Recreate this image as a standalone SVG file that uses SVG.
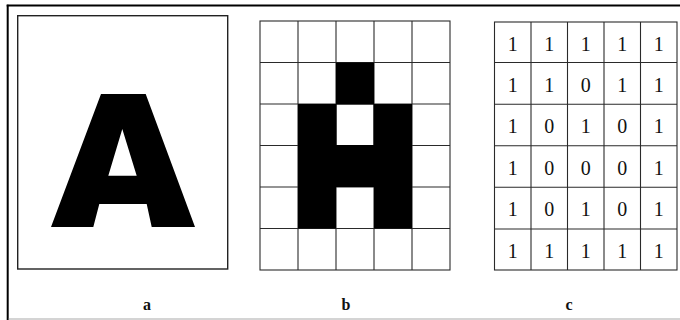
<svg xmlns="http://www.w3.org/2000/svg" width="680" height="320" viewBox="0 0 680 320">
  <style>
    .grid { stroke: #2a2a2a; stroke-width: 1.1; fill: none; }
    .digit { font-family: "Liberation Serif", "Times New Roman", serif; font-size: 20px; fill: #111; text-anchor: middle; }
    .label { font-family: "Liberation Serif", "Times New Roman", serif; font-size: 16px; font-weight: bold; fill: #111; text-anchor: middle; }
  </style>
  <rect x="0" y="0" width="680" height="320" fill="#fff"/>
  <g id="frame">
    <line x1="7.7" y1="4.7" x2="7.7" y2="320" stroke="#000" stroke-width="2"/>
    <line x1="6.7" y1="5.5" x2="680" y2="5.5" stroke="#000" stroke-width="1.8"/>
    <line x1="8.7" y1="319" x2="680" y2="319" stroke="#aaa" stroke-width="1.2"/>
  </g>
  <g id="panel-a">
    <rect x="17.7" y="15.7" width="210" height="253.3" fill="#fff" stroke="#222" stroke-width="1.4"/>
    <path fill="#000" fill-rule="evenodd" d="M51,227 L101,94 L145.7,94 L195,227 L151.7,227 L146.7,204 L99.3,204 L93.3,227 Z M122.3,129 L136.7,175.7 L108.3,175.7 Z"/>
    <text class="label" x="147" y="309.5">a</text>
  </g>
  <g id="panel-b">
    <g class="grid">
      <rect x="260" y="21" width="190" height="249"/>
      <line x1="298" y1="21" x2="298" y2="270"/>
      <line x1="336" y1="21" x2="336" y2="270"/>
      <line x1="374" y1="21" x2="374" y2="270"/>
      <line x1="412" y1="21" x2="412" y2="270"/>
      <line x1="260" y1="62.5" x2="450" y2="62.5"/>
      <line x1="260" y1="104" x2="450" y2="104"/>
      <line x1="260" y1="145.5" x2="450" y2="145.5"/>
      <line x1="260" y1="187" x2="450" y2="187"/>
      <line x1="260" y1="228.5" x2="450" y2="228.5"/>
    </g>
    <path fill="#000" fill-rule="evenodd" d="M336,62.5 H374 V104 H412 V228.5 H374 V187 H336 V228.5 H298 V104 H336 Z M336.5,104.5 H373.5 V145 H336.5 Z"/>
    <text class="label" x="346" y="309.5">b</text>
  </g>
  <g id="panel-c">
    <g class="grid">
      <rect x="494.5" y="22" width="182.5" height="248"/>
      <line x1="531" y1="22" x2="531" y2="270"/>
      <line x1="567.5" y1="22" x2="567.5" y2="270"/>
      <line x1="604" y1="22" x2="604" y2="270"/>
      <line x1="640.5" y1="22" x2="640.5" y2="270"/>
      <line x1="494.5" y1="62.5" x2="677" y2="62.5"/>
      <line x1="494.5" y1="104.3" x2="677" y2="104.3"/>
      <line x1="494.5" y1="145.7" x2="677" y2="145.7"/>
      <line x1="494.5" y1="187.3" x2="677" y2="187.3"/>
      <line x1="494.5" y1="229" x2="677" y2="229"/>
    </g>
    <g class="digit">
      <text x="512.75" y="50.5">1</text><text x="549.25" y="50.5">1</text><text x="585.75" y="50.5">1</text><text x="622.25" y="50.5">1</text><text x="658.75" y="50.5">1</text>
      <text x="512.75" y="91.5">1</text><text x="549.25" y="91.5">1</text><text x="585.75" y="91.5">0</text><text x="622.25" y="91.5">1</text><text x="658.75" y="91.5">1</text>
      <text x="512.75" y="133">1</text><text x="549.25" y="133">0</text><text x="585.75" y="133">1</text><text x="622.25" y="133">0</text><text x="658.75" y="133">1</text>
      <text x="512.75" y="174.5">1</text><text x="549.25" y="174.5">0</text><text x="585.75" y="174.5">0</text><text x="622.25" y="174.5">0</text><text x="658.75" y="174.5">1</text>
      <text x="512.75" y="216">1</text><text x="549.25" y="216">0</text><text x="585.75" y="216">1</text><text x="622.25" y="216">0</text><text x="658.75" y="216">1</text>
      <text x="512.75" y="257.5">1</text><text x="549.25" y="257.5">1</text><text x="585.75" y="257.5">1</text><text x="622.25" y="257.5">1</text><text x="658.75" y="257.5">1</text>
    </g>
    <text class="label" x="569" y="309.5">c</text>
  </g>
</svg>
